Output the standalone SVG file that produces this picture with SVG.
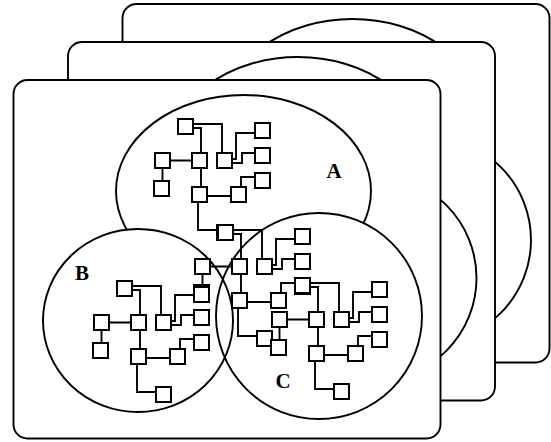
<svg xmlns="http://www.w3.org/2000/svg" xmlns:xlink="http://www.w3.org/1999/xlink" width="551" height="442" viewBox="0 0 551 442">
  <style>
    .card{fill:#fff;stroke:#000;stroke-width:1.9}
    .zone{fill:none;stroke:#000;stroke-width:1.9}
    .zone-bg{fill:#fff;stroke:none}
    .link{fill:none;stroke:#000;stroke-width:1.9}
    .sq{fill:#fff;stroke:#000;stroke-width:2}
    .lbl{font-family:"Liberation Serif","Times New Roman",serif;font-weight:bold;font-size:21px;fill:#000;text-anchor:middle}
  </style>
  <defs>
    <!-- one subnet's wiring, in the coordinates of the A subnet -->
    <path id="tree-links" class="link" d="M193,124H222V153 M193,128H201V153 M170,160.5H192 M162.5,168V181 M201,168V187 M232,159H236V133H255 M232,163H242V153H255 M207,196H231 M241,187V177H255 M198,202V230H217"/>
  </defs>

  <!-- back sheet -->
  <g id="sheet-3" transform="translate(109,-76)">
    <rect class="card" x="13.5" y="80" width="427" height="358.5" rx="14"/>
    <ellipse class="zone" cx="243.5" cy="191" rx="127.5" ry="96"/>
    <circle class="zone" cx="319" cy="316" r="103"/>
  </g>

  <!-- middle sheet -->
  <g id="sheet-2" transform="translate(54.5,-38)">
    <rect class="card" x="13.5" y="80" width="427" height="358.5" rx="14"/>
    <ellipse class="zone" cx="243.5" cy="191" rx="127.5" ry="96"/>
    <circle class="zone" cx="319" cy="316" r="103"/>
  </g>

  <!-- front sheet -->
  <g id="sheet-1">
    <rect class="card" x="13.5" y="80" width="427" height="358.5" rx="14"/>
    <g id="region-a">
      <ellipse class="zone" cx="243.5" cy="191" rx="127.5" ry="96"/>
      <text class="lbl" x="334" y="178">A</text>
    </g>
    <ellipse class="zone-bg" cx="138" cy="320.5" rx="95" ry="91.5"/>
    <circle class="zone-bg" cx="319" cy="316" r="103"/>
    <g id="region-b">
      <ellipse class="zone" cx="138" cy="320.5" rx="95" ry="91.5"/>
      <text class="lbl" x="82" y="280">B</text>
    </g>
    <g id="region-c">
      <circle class="zone" cx="319" cy="316" r="103"/>
      <text class="lbl" x="283" y="388">C</text>
    </g>
  </g>

  <g id="connectors">
    <use xlink:href="#tree-links" href="#tree-links"/>
    <use xlink:href="#tree-links" href="#tree-links" transform="translate(-61,162)"/>
    <use xlink:href="#tree-links" href="#tree-links" transform="translate(40,106)"/>
    <use xlink:href="#tree-links" href="#tree-links" transform="translate(117,159)"/>
  </g>

  <!-- subnet A -->
  <g id="net-a">
    <g id="a-n1"><rect class="sq" x="178" y="119" width="15" height="15"/></g>
    <g id="a-n2"><rect class="sq" x="255" y="123" width="15" height="15"/></g>
    <g id="a-n3"><rect class="sq" x="155" y="153" width="15" height="15"/></g>
    <g id="a-n4"><rect class="sq" x="192" y="153" width="15" height="15"/></g>
    <g id="a-n5"><rect class="sq" x="217" y="153" width="15" height="15"/></g>
    <g id="a-n6"><rect class="sq" x="255" y="148" width="15" height="15"/></g>
    <g id="a-n7"><rect class="sq" x="154" y="181" width="15" height="15"/></g>
    <g id="a-n8"><rect class="sq" x="255" y="173" width="15" height="15"/></g>
    <g id="a-n9"><rect class="sq" x="192" y="187" width="15" height="15"/></g>
    <g id="a-n10"><rect class="sq" x="231" y="187" width="15" height="15"/></g>
    <g id="a-n11"><rect class="sq" x="217" y="225" width="15" height="15"/></g>
  </g>

  <!-- subnet B -->
  <g id="net-b" transform="translate(-61,162)">
    <g id="b-n1"><rect class="sq" x="178" y="119" width="15" height="15"/></g>
    <g id="b-n2"><rect class="sq" x="255" y="123" width="15" height="15"/></g>
    <g id="b-n3"><rect class="sq" x="155" y="153" width="15" height="15"/></g>
    <g id="b-n4"><rect class="sq" x="192" y="153" width="15" height="15"/></g>
    <g id="b-n5"><rect class="sq" x="217" y="153" width="15" height="15"/></g>
    <g id="b-n6"><rect class="sq" x="255" y="148" width="15" height="15"/></g>
    <g id="b-n7"><rect class="sq" x="154" y="181" width="15" height="15"/></g>
    <g id="b-n8"><rect class="sq" x="255" y="173" width="15" height="15"/></g>
    <g id="b-n9"><rect class="sq" x="192" y="187" width="15" height="15"/></g>
    <g id="b-n10"><rect class="sq" x="231" y="187" width="15" height="15"/></g>
    <g id="b-n11"><rect class="sq" x="217" y="225" width="15" height="15"/></g>
  </g>

  <!-- subnet spanning the overlaps -->
  <g id="net-m" transform="translate(40,106)">
    <g id="m-n1"><rect class="sq" x="178" y="119" width="15" height="15"/></g>
    <g id="m-n2"><rect class="sq" x="255" y="123" width="15" height="15"/></g>
    <g id="m-n3"><rect class="sq" x="155" y="153" width="15" height="15"/></g>
    <g id="m-n4"><rect class="sq" x="192" y="153" width="15" height="15"/></g>
    <g id="m-n5"><rect class="sq" x="217" y="153" width="15" height="15"/></g>
    <g id="m-n6"><rect class="sq" x="255" y="148" width="15" height="15"/></g>
    <g id="m-n7"><rect class="sq" x="154" y="181" width="15" height="15"/></g>
    <g id="m-n8"><rect class="sq" x="255" y="173" width="15" height="15"/></g>
    <g id="m-n9"><rect class="sq" x="192" y="187" width="15" height="15"/></g>
    <g id="m-n10"><rect class="sq" x="231" y="187" width="15" height="15"/></g>
    <g id="m-n11"><rect class="sq" x="217" y="225" width="15" height="15"/></g>
  </g>

  <!-- subnet C -->
  <g id="net-c" transform="translate(117,159)">
    <g id="c-n1"><rect class="sq" x="178" y="119" width="15" height="15"/></g>
    <g id="c-n2"><rect class="sq" x="255" y="123" width="15" height="15"/></g>
    <g id="c-n3"><rect class="sq" x="155" y="153" width="15" height="15"/></g>
    <g id="c-n4"><rect class="sq" x="192" y="153" width="15" height="15"/></g>
    <g id="c-n5"><rect class="sq" x="217" y="153" width="15" height="15"/></g>
    <g id="c-n6"><rect class="sq" x="255" y="148" width="15" height="15"/></g>
    <g id="c-n7"><rect class="sq" x="154" y="181" width="15" height="15"/></g>
    <g id="c-n8"><rect class="sq" x="255" y="173" width="15" height="15"/></g>
    <g id="c-n9"><rect class="sq" x="192" y="187" width="15" height="15"/></g>
    <g id="c-n10"><rect class="sq" x="231" y="187" width="15" height="15"/></g>
    <g id="c-n11"><rect class="sq" x="217" y="225" width="15" height="15"/></g>
  </g>
</svg>
